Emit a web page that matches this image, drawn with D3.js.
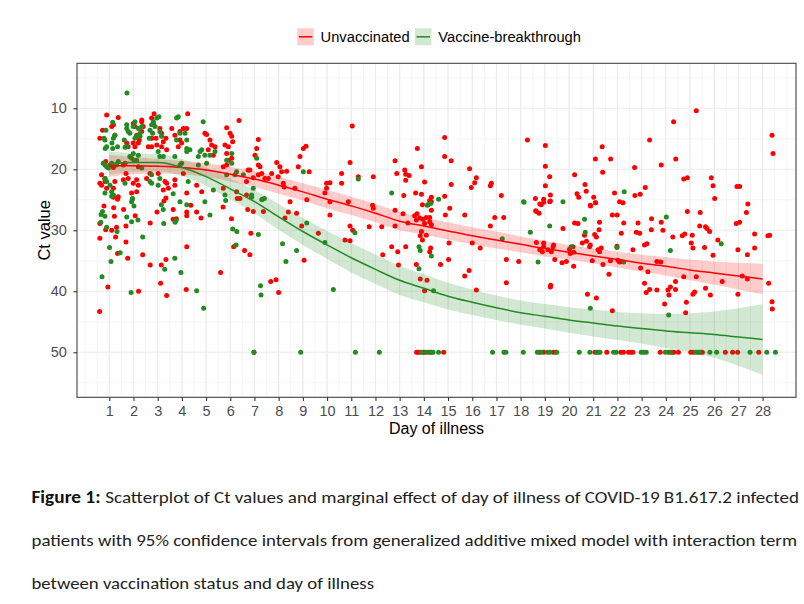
<!DOCTYPE html>
<html><head><meta charset="utf-8">
<script src="https://cdn.jsdelivr.net/npm/d3@7"></script>
<style>body{margin:0;background:#fff}</style>
</head><body><svg id="c" width="804" height="604"></svg>
<script>
// ---------- data (day of illness, Ct value) ----------
const unvaccinated = [
[0.89,11.1],[1.37,11.5],[2.85,10.9],[4.24,10.9],[6.36,12.0],
[0.72,13.6],[1.10,13.0],[1.17,12.7],[1.23,14.4],[0.61,14.9],
[2.34,11.9],[2.34,12.2],[1.99,12.5],[2.06,13.0],[2.40,13.0],[2.34,13.8],[2.13,14.4],[2.24,15.2],[2.20,15.7],[1.99,15.7],[1.72,15.7],[1.78,16.3],[2.06,16.3],
[2.75,11.6],[2.82,12.5],[3.09,13.3],[3.16,14.1],[2.93,14.9],[2.75,14.9],[3.34,14.9],[3.23,15.5],[2.96,16.0],[3.16,16.3],[2.75,16.3],[2.61,16.3],[3.37,16.8],
[3.58,13.3],[3.71,14.4],[3.92,13.8],[4.06,13.3],[4.20,13.3],[3.92,15.2],[3.99,15.7],[3.85,16.3],
[4.95,14.1],[5.02,14.3],[5.16,15.2],[5.23,16.0],[5.37,16.3],[5.09,16.8],[5.30,17.7],
[5.85,13.2],[5.99,14.1],[6.06,14.6],[6.10,15.5],[5.78,16.0],[5.92,16.3],[5.85,17.4],
[7.16,15.1],[7.09,16.6],[7.02,17.7],[7.16,19.3],
[0.85,18.7],[1.03,19.3],[1.17,19.7],[0.68,20.9],[0.82,21.5],[0.61,22.3],[0.68,22.6],[0.82,22.0],[0.89,23.1],[1.17,23.1],[1.23,22.0],[1.37,24.5],
[1.58,19.3],[1.65,19.0],[2.20,19.6],[1.69,20.7],[1.78,21.5],[1.58,21.7],[2.13,21.7],[2.20,22.6],[1.99,22.3],[1.92,23.9],[2.13,23.7],[2.54,21.5],[2.68,20.7],[3.02,20.7],[3.30,22.0],[3.37,22.3],[3.23,23.4],[3.44,23.1],[3.71,22.6],[3.71,21.7],[4.06,20.7],[4.20,23.9],[4.61,22.6],[4.82,23.7],
[5.85,19.3],[5.92,18.5],[6.06,18.2],[5.71,19.6],[6.81,20.1],[7.23,19.6],[7.16,20.9],[7.30,20.7],[7.43,21.5],[6.67,22.0],[5.71,23.1],[6.26,23.7],[6.67,24.2],
[1.17,24.6],[1.34,24.9],[0.78,26.0],[1.18,26.3],[1.59,26.6],[1.21,27.7],[0.61,28.9],[0.85,29.9],[1.10,30.0],[1.30,29.5],[1.69,29.3],[0.61,31.3],[1.26,31.1],[1.69,31.9],[1.34,33.8],[1.76,34.6],[0.94,39.3],[2.07,27.6],[2.69,28.8],[2.38,34.0],[2.69,35.7],[2.21,40.0],[2.97,27.0],[3.26,25.2],[3.34,24.7],[3.64,26.6],[3.64,28.2],[3.77,28.1],[4.20,27.0],[4.20,27.6],[4.37,25.9],[4.61,27.0],[4.79,28.0],[3.34,34.8],[3.15,35.7],[3.12,38.7],[3.37,40.7],[4.18,39.7],[4.20,32.7],[5.70,26.2],[6.05,28.1],[6.14,32.7],[5.60,36.9],[6.59,33.3],[6.81,34.0],[6.85,30.5],[6.29,24.8],[6.40,24.8],[6.72,26.6],[6.95,26.9],[7.33,24.9],[7.37,26.9],[0.60,43.3],
[7.92,18.9],[8.05,19.6],[8.12,20.4],[7.71,20.7],[8.33,20.3],[7.98,21.2],[8.19,22.3],[8.23,22.9],[7.57,21.5],[6.74,20.1],[6.95,21.4],[8.88,17.9],[9.02,16.6],[9.13,16.2],[8.81,19.6],[9.26,20.4],[8.67,23.1],[9.16,25.0],[8.47,25.3],[9.98,22.3],[10.12,22.2],[9.98,23.1],[9.91,23.9],[10.12,25.3],[10.60,22.3],[10.60,20.7],[10.95,18.9],[11.04,12.9],[11.29,21.2],[11.91,21.2],[10.88,25.3],[12.81,18.6],[12.88,20.7],[11.88,25.9],
[7.67,38.4],[7.89,38.1],[8.00,40.2],[8.26,28.0],[8.40,27.0],[8.74,27.2],[8.95,29.3],[9.05,34.9],[9.64,30.5],[10.12,27.5],[10.74,31.6],[10.95,31.7],[10.95,29.3],[11.06,30.0],[11.74,29.4],[12.26,29.4],[12.30,34.0],[12.67,32.7],[12.92,33.5],[12.95,35.7],[12.81,26.7],[12.81,29.3],[11.91,26.4],
[14.86,14.8],[13.73,16.6],[14.86,17.9],[15.13,18.6],[13.90,19.6],[14.03,22.1],[13.21,20.1],[13.25,20.8],[13.39,21.0],[13.25,21.8],[13.66,23.9],[13.90,24.1],[13.17,24.3],[14.31,24.6],[14.24,25.1],[14.31,26.7],[14.86,24.4],[14.89,27.5],[15.07,26.4],[15.69,27.5],[15.89,19.9],[16.17,21.4],[16.10,22.2],[15.96,23.0],[15.13,22.5],[16.79,22.3],[16.75,22.7],[17.20,24.3],[16.93,27.9],[17.30,27.9],[18.28,15.2],[19.02,16.1],[19.02,19.5],[19.20,21.2],[19.02,22.7],[19.23,24.2],[18.61,24.8],[18.79,25.7],[18.95,24.9],[18.62,26.8],[18.76,27.2],[19.23,25.2],[20.23,20.9],[20.66,22.5],[20.71,23.6],[21.09,18.3],[21.37,16.3],[21.39,20.5],[21.72,18.3],[20.33,24.0],[20.40,24.6],[21.02,24.6],[21.09,25.5],[20.88,25.9],[21.88,23.9],[22.09,25.3],[22.23,25.5],[21.79,27.5],[21.99,27.5],[22.71,19.7],[22.72,24.3],[22.94,24.1],[23.15,23.0],[23.33,15.2],[23.41,28.1],[23.81,19.3],[24.32,12.2],[24.41,18.3],[25.26,10.4],[24.74,21.6],[24.89,21.4],[24.89,26.9],[25.42,27.1],[25.88,21.4],[25.95,22.7],[26.02,24.8],[26.94,22.8],[27.05,22.8],[27.39,25.7],[27.33,27.1],[28.39,14.4],[28.43,17.4],[14.24,27.9],
[13.94,25.8],[14.17,25.8],[14.31,25.3],[16.75,29.3],[18.65,26.9],[18.85,25.8],[18.95,25.4],[19.20,25.3],[20.89,26.0],[21.10,25.5],[20.23,28.8],[20.37,28.9],[21.26,28.7],[19.75,29.7],[20.64,30.8],[21.06,30.7],[21.13,31.1],[21.24,29.9],[20.55,32.1],[20.72,31.8],[20.88,32.4],[21.20,33.2],[21.33,32.9],[22.16,30.5],[22.26,28.8],[22.85,28.8],[22.92,30.5],[22.64,33.2],[22.78,30.3],[23.12,32.4],[23.22,32.2],[23.40,29.9],[23.81,28.7],[23.88,30.0],[24.29,31.1],[24.68,30.9],[24.78,30.6],[25.09,30.8],[25.05,32.1],[25.12,32.9],[25.40,29.3],[25.64,29.4],[25.70,29.7],[25.60,32.8],[25.81,30.2],[25.95,34.1],[26.15,31.6],[26.91,28.9],[27.05,28.7],[26.98,33.2],[27.37,34.0],[27.67,32.9],[27.67,30.6],[28.22,30.9],[28.29,30.8],
[13.25,32.7],[13.69,35.6],[13.85,38.0],[14.13,38.2],[14.03,39.9],[14.24,33.5],[14.28,32.9],[14.69,35.6],[15.02,34.8],[15.04,32.1],[15.69,37.5],[15.87,36.6],[16.17,39.8],[16.33,32.9],[16.00,32.1],[17.41,34.8],[17.41,38.6],[17.92,35.1],[19.24,39.0],[19.23,39.3],[18.90,33.5],[18.95,32.7],[18.79,33.2],[19.13,33.2],[19.34,32.7],[19.41,34.8],[19.71,35.3],[19.89,35.1],[20.19,35.9],[20.76,40.5],[21.13,41.1],[21.65,37.2],[21.79,43.2],[22.02,34.9],[22.16,35.1],[22.96,36.2],[23.12,38.7],[23.19,40.2],[23.33,39.7],[23.26,36.8],[23.63,39.8],[23.63,35.1],[23.79,35.2],[23.95,42.1],[24.09,39.8],[24.19,39.3],[24.40,39.7],[24.40,38.4],[24.13,40.6],[24.74,37.6],[24.85,41.8],[24.82,43.5],[25.12,40.5],[25.19,40.1],[25.26,37.6],[25.64,39.5],[25.84,40.6],[26.33,38.4],[26.98,40.5],[27.16,37.5],[27.37,38.0],[28.25,38.7],[28.39,41.7],[28.40,42.9],
[18.65,32.0],[18.95,32.1],[19.27,33.5],[19.36,32.4],[20.02,33.1],[20.16,32.7],[20.05,33.8],[20.20,33.6],[20.85,32.7],[20.96,35.0],[21.26,33.5],[21.40,35.6],[21.71,35.0],[21.98,32.6],[22.09,35.2],
[13.14,27.3],[13.62,27.6],[13.72,27.3],[13.69,28.3],[13.83,28.0],[13.96,28.2],[14.03,28.9],[14.10,27.9],[14.24,28.6],[14.31,29.1],[13.90,30.2],[14.10,30.8],[13.85,30.9],[13.34,28.8],[13.94,31.6],
[6.98,50],[13.70,50],[13.76,50],[13.83,50],[13.97,50],[14.03,50],[14.21,50],[14.31,50],[14.82,50],[18.77,50],[18.95,50],[19.35,50],[19.45,50],[21.07,50],[21.21,50],[21.56,50],[22.14,50],[22.25,50],[22.46,50],[22.57,50],[22.64,50],[23.77,50],[24.12,50],[24.26,50],[24.33,50],[24.52,50],[25.03,50],[25.13,50],[25.31,50],[25.45,50],[25.51,50],[26.46,50],[26.76,50],[26.97,50],[27.84,50]
];
const breakthrough = [
[1.73,7.5],[1.14,12.3],[0.86,13.6],[0.78,14.9],[0.82,15.2],[0.89,16.3],[0.83,16.6],[1.17,14.9],[1.23,14.4],[1.11,15.7],[1.34,16.3],[1.14,16.6],
[1.72,12.7],[1.72,13.3],[1.78,13.8],[1.85,14.1],[1.99,13.0],[2.06,12.2],[2.20,13.3],[2.27,14.1],[2.27,14.6],[2.34,13.0],[2.13,14.6],[2.06,14.9],[1.62,15.2],[1.65,16.4],[1.72,16.3],
[2.68,13.6],[2.75,12.7],[2.82,12.2],[2.89,13.0],[2.96,11.6],[3.05,11.4],[3.09,13.8],[3.16,14.6],[2.79,14.1],[2.65,14.9],
[3.78,11.6],[3.85,11.4],[3.78,15.2],[3.92,14.1],[4.13,14.1],[4.20,15.2],[4.20,16.6],
[4.88,12.2],[4.82,16.8],[4.75,17.1],[4.68,17.9],[4.95,17.7],[5.16,17.7],[5.37,17.1],
[6.06,17.4],[5.85,18.5],[6.06,19.0],[7.09,18.2],
[0.82,19.3],[0.75,19.0],[0.89,19.6],[0.96,19.8],[1.10,19.0],[1.30,19.3],[1.37,18.7],[1.85,17.9],[1.92,18.2],[1.99,17.4],[2.03,18.6],[2.13,18.5],[2.20,17.7],[2.34,19.8],[2.75,20.9],[3.02,17.1],[3.09,17.9],[3.23,17.9],[3.92,19.3],[3.99,19.0],[3.71,17.9],[4.20,17.1],[4.33,16.8],[4.68,19.3],[5.02,19.0],[5.85,20.9],[6.19,20.9],[6.26,20.4],[6.54,20.9],[6.95,23.1],[6.88,24.2],[7.30,25.0],
[0.82,21.5],[0.89,22.0],[1.03,22.6],[1.10,23.7],[1.17,24.2],[0.82,23.9],[1.65,22.3],[1.96,24.8],[2.68,22.0],[2.75,22.3],[3.02,22.6],[3.09,21.5],[3.64,24.0],[4.26,22.0],[5.30,23.4],[5.78,24.2],
[1.10,24.4],[1.95,24.9],[1.92,25.3],[2.02,26.0],[0.72,26.9],[0.66,27.4],[0.82,27.7],[0.65,28.7],[0.89,29.5],[1.32,30.2],[1.72,27.8],[1.92,28.6],[2.18,28.3],[1.01,32.8],[1.45,33.7],[1.07,35.1],[0.70,37.6],[1.90,40.2],[2.38,31.1],[3.15,25.8],[3.23,26.6],[3.92,25.3],[4.20,25.8],[4.95,25.3],[5.16,27.5],[3.76,28.4],[3.72,28.7],[3.71,34.6],[3.29,36.4],[3.96,36.9],[4.61,39.9],[4.90,42.8],[5.81,25.1],[6.10,29.8],[6.27,30.2],[6.24,32.4],[7.16,30.7],[7.25,39.1],[6.88,24.6],[7.41,24.8],[3.25,28.9],
[9.02,20.4],[11.29,21.6],[12.67,23.9],
[7.27,40.6],[8.16,32.2],[8.30,35.1],[8.74,33.3],[9.16,28.8],[9.91,32.0],[10.26,39.7],[11.15,30.4],
[18.12,25.3],[19.75,25.3],[18.40,30.3],[19.20,29.3],[17.24,31.4],[18.72,35.2],[20.64,28.2],[20.67,30.3],[20.09,32.7],[22.26,35.2],[21.98,32.8],[24.02,27.8],[24.19,33.3],[26.29,32.2],[20.88,42.8],[24.12,43.9],[13.80,32.7],[13.85,33.3],[13.80,36.3],[14.31,34.2],[14.40,39.9],[14.14,25.9],
[14.28,25.6],[14.61,24.9],[18.14,25.4],[22.28,23.7],
[6.98,50],[8.91,50],[11.17,50],[12.16,50],[13.90,50],[14.11,50],[14.27,50],[14.38,50],[14.61,50],[16.84,50],[17.31,50],[17.39,50],[18.11,50],[18.69,50],[18.84,50],[19.11,50],[19.21,50],[19.49,50],[20.42,50],[20.86,50],[21.14,50],[21.28,50],[21.84,50],[21.95,50],[22.98,50],[23.08,50],[23.19,50],[23.98,50],[24.19,50],[25.24,50],[25.38,50],[25.82,50],[26.10,50],[27.48,50],[28.17,50],[28.53,50]
];
// model fit (marginal effect) and 95% CI half-width
const fitDays        = [1,2,3,4,5,6,7,8,9,10,11,12,13,14,15,16,17,18,19,20,21,22,23,24,25,26,27,28];
const unvaccFit      = [19.4,19.4,19.5,19.7,20.1,20.8,21.6,22.6,23.7,24.9,26.0,27.2,28.5,29.3,30.1,30.9,31.6,32.3,33.0,33.6,34.2,34.8,35.4,35.9,36.5,37.0,37.5,38.0];
const unvaccHalfCI   = [1.8,1.4,1.2,1.1,1.1,1.2,1.3,1.4,1.4,1.5,1.5,1.5,1.5,1.4,1.4,1.4,1.4,1.3,1.3,1.2,1.2,1.3,1.4,1.5,1.7,1.9,2.2,2.5];
const breakFit       = [19.0,18.9,18.9,19.7,21.2,23.2,25.3,27.8,30.2,32.4,34.5,36.4,38.2,39.5,40.8,41.8,42.7,43.5,44.1,44.7,45.2,45.7,46.1,46.5,46.8,47.1,47.5,47.9];
const breakHalfCI    = [1.9,1.5,1.4,1.4,1.5,1.7,1.9,2.1,2.2,2.3,2.4,2.4,2.4,2.3,2.2,2.1,2.0,2.0,2.0,2.1,2.2,2.3,2.5,2.8,3.2,3.8,4.7,5.8];
const xTickValues = d3.range(1, 29);
const yTickValues = [10, 20, 30, 40, 50];
const groups = ["Unvaccinated", "Vaccine-breakthrough"];
const colors = ["#FF0000", "#228B22"];
const captionLines = [
  ["Figure 1:", " Scatterplot of Ct values and marginal effect of day of illness of COVID-19 B1.617.2 infected"],
  ["", "patients with 95% confidence intervals from generalized additive mixed model with interaction term"],
  ["", "between vaccination status and day of illness"]
];

// ---------- drawing ----------
const svg = d3.select("#c");
const PL = 77, PR = 796, PT = 63.3, PB = 397.3;
const x = d3.scaleLinear().domain([-0.335, 29.38]).range([PL, PR]);
const y = d3.scaleLinear().domain([2.62, 57.38]).range([PT, PB]);
const FONT = "'Liberation Sans', Arial, sans-serif";

svg.append("rect").attr("width", 804).attr("height", 604).attr("fill", "#fff");

const grid = svg.append("g");
// minor grid
d3.range(0, 29.01, 0.5).forEach(v => grid.append("line")
  .attr("x1", x(v)).attr("x2", x(v)).attr("y1", PT).attr("y2", PB)
  .attr("stroke", "#ebebeb").attr("stroke-width", 0.55));
[5, 15, 25, 35, 45, 55].forEach(v => grid.append("line")
  .attr("x1", PL).attr("x2", PR).attr("y1", y(v)).attr("y2", y(v))
  .attr("stroke", "#ebebeb").attr("stroke-width", 0.55));
// major grid
xTickValues.forEach(v => grid.append("line")
  .attr("x1", x(v)).attr("x2", x(v)).attr("y1", PT).attr("y2", PB)
  .attr("stroke", "#ebebeb").attr("stroke-width", 1.1));
yTickValues.forEach(v => grid.append("line")
  .attr("x1", PL).attr("x2", PR).attr("y1", y(v)).attr("y2", y(v))
  .attr("stroke", "#ebebeb").attr("stroke-width", 1.1));

// points
[unvaccinated, breakthrough].forEach((pts, i) => {
  svg.append("g").selectAll("circle").data(pts).join("circle")
    .attr("cx", d => x(d[0])).attr("cy", d => y(d[1])).attr("r", 2.5)
    .attr("fill", colors[i]);
});

// ribbons and lines
const fits = [[unvaccFit, unvaccHalfCI], [breakFit, breakHalfCI]];
fits.forEach(([fit, half], i) => {
  const rows = fitDays.map((d, k) => ({d, f: fit[k], lo: fit[k] - half[k], hi: fit[k] + half[k]}));
  const area = d3.area().x(r => x(r.d)).y0(r => y(r.lo)).y1(r => y(r.hi)).curve(d3.curveMonotoneX);
  svg.append("path").datum(rows).attr("d", area).attr("fill", colors[i]).attr("fill-opacity", 0.2);
});
fits.forEach(([fit], i) => {
  const rows = fitDays.map((d, k) => ({d, f: fit[k]}));
  const line = d3.line().x(r => x(r.d)).y(r => y(r.f)).curve(d3.curveMonotoneX);
  svg.append("path").datum(rows).attr("d", line).attr("fill", "none")
    .attr("stroke", colors[i]).attr("stroke-width", 1.5);
});

// border
svg.append("rect").attr("x", PL).attr("y", PT).attr("width", PR - PL).attr("height", PB - PT)
  .attr("fill", "none").attr("stroke", "#444").attr("stroke-width", 1.1);

// axes
const xAxis = svg.append("g").attr("transform", `translate(0,${PB})`)
  .call(d3.axisBottom(x).tickValues(xTickValues).tickSize(3.6).tickPadding(4.5).tickFormat(d3.format("d")));
const yAxis = svg.append("g").attr("transform", `translate(${PL},0)`)
  .call(d3.axisLeft(y).tickValues(yTickValues).tickSize(3.6).tickPadding(6.5));
[xAxis, yAxis].forEach(a => {
  a.select(".domain").remove();
  a.selectAll(".tick line").attr("stroke", "#333").attr("stroke-width", 1.1);
  a.selectAll(".tick text").attr("fill", "#4d4d4d").style("font-family", FONT).style("font-size", "14.5px");
});

// axis titles
svg.append("text").attr("x", (PL + PR) / 2).attr("y", 433.5).attr("text-anchor", "middle")
  .style("font-family", FONT).style("font-size", "16px").attr("fill", "#000").text("Day of illness");
svg.append("text").attr("transform", `translate(50,${(PT + PB) / 2}) rotate(-90)`).attr("text-anchor", "middle")
  .style("font-family", FONT).style("font-size", "16.5px").attr("fill", "#000").text("Ct value");

// legend
const legX = [297.3, 415];
groups.forEach((g, i) => {
  const lg = svg.append("g");
  lg.append("rect").attr("x", legX[i]).attr("y", 28.3).attr("width", 16.5).attr("height", 17)
    .attr("fill", colors[i]).attr("fill-opacity", 0.2);
  lg.append("line").attr("x1", legX[i] + 1.5).attr("x2", legX[i] + 15).attr("y1", 36.8).attr("y2", 36.8)
    .attr("stroke", colors[i]).attr("stroke-width", 1.5);
  lg.append("text").attr("x", legX[i] + 23.3).attr("y", 42).style("font-family", FONT)
    .style("font-size", "14.7px").attr("fill", "#000").text(g);
});

// caption
const CFONT = "Carlito, Calibri, 'Liberation Sans Narrow', 'DejaVu Sans Condensed', sans-serif";
const capBase = [503, 546, 589];
const capRight = [799, 797, 374];
captionLines.forEach((ln, i) => {
  let start = 31.5;
  if (ln[0]) {
    svg.append("text").attr("x", start).attr("y", capBase[i]).style("font-family", CFONT)
      .style("font-size", "17px").style("font-weight", "bold").attr("textLength", 69)
      .attr("lengthAdjust", "spacingAndGlyphs").attr("fill", "#111").text(ln[0]);
    start = 101;
  }
  svg.append("text").attr("x", start).attr("y", capBase[i]).style("font-family", CFONT)
    .style("font-size", "17px").attr("textLength", capRight[i] - start)
    .attr("lengthAdjust", "spacingAndGlyphs").attr("fill", "#222").attr("xml:space", "preserve").text(ln[1]);
});
</script></body></html>
